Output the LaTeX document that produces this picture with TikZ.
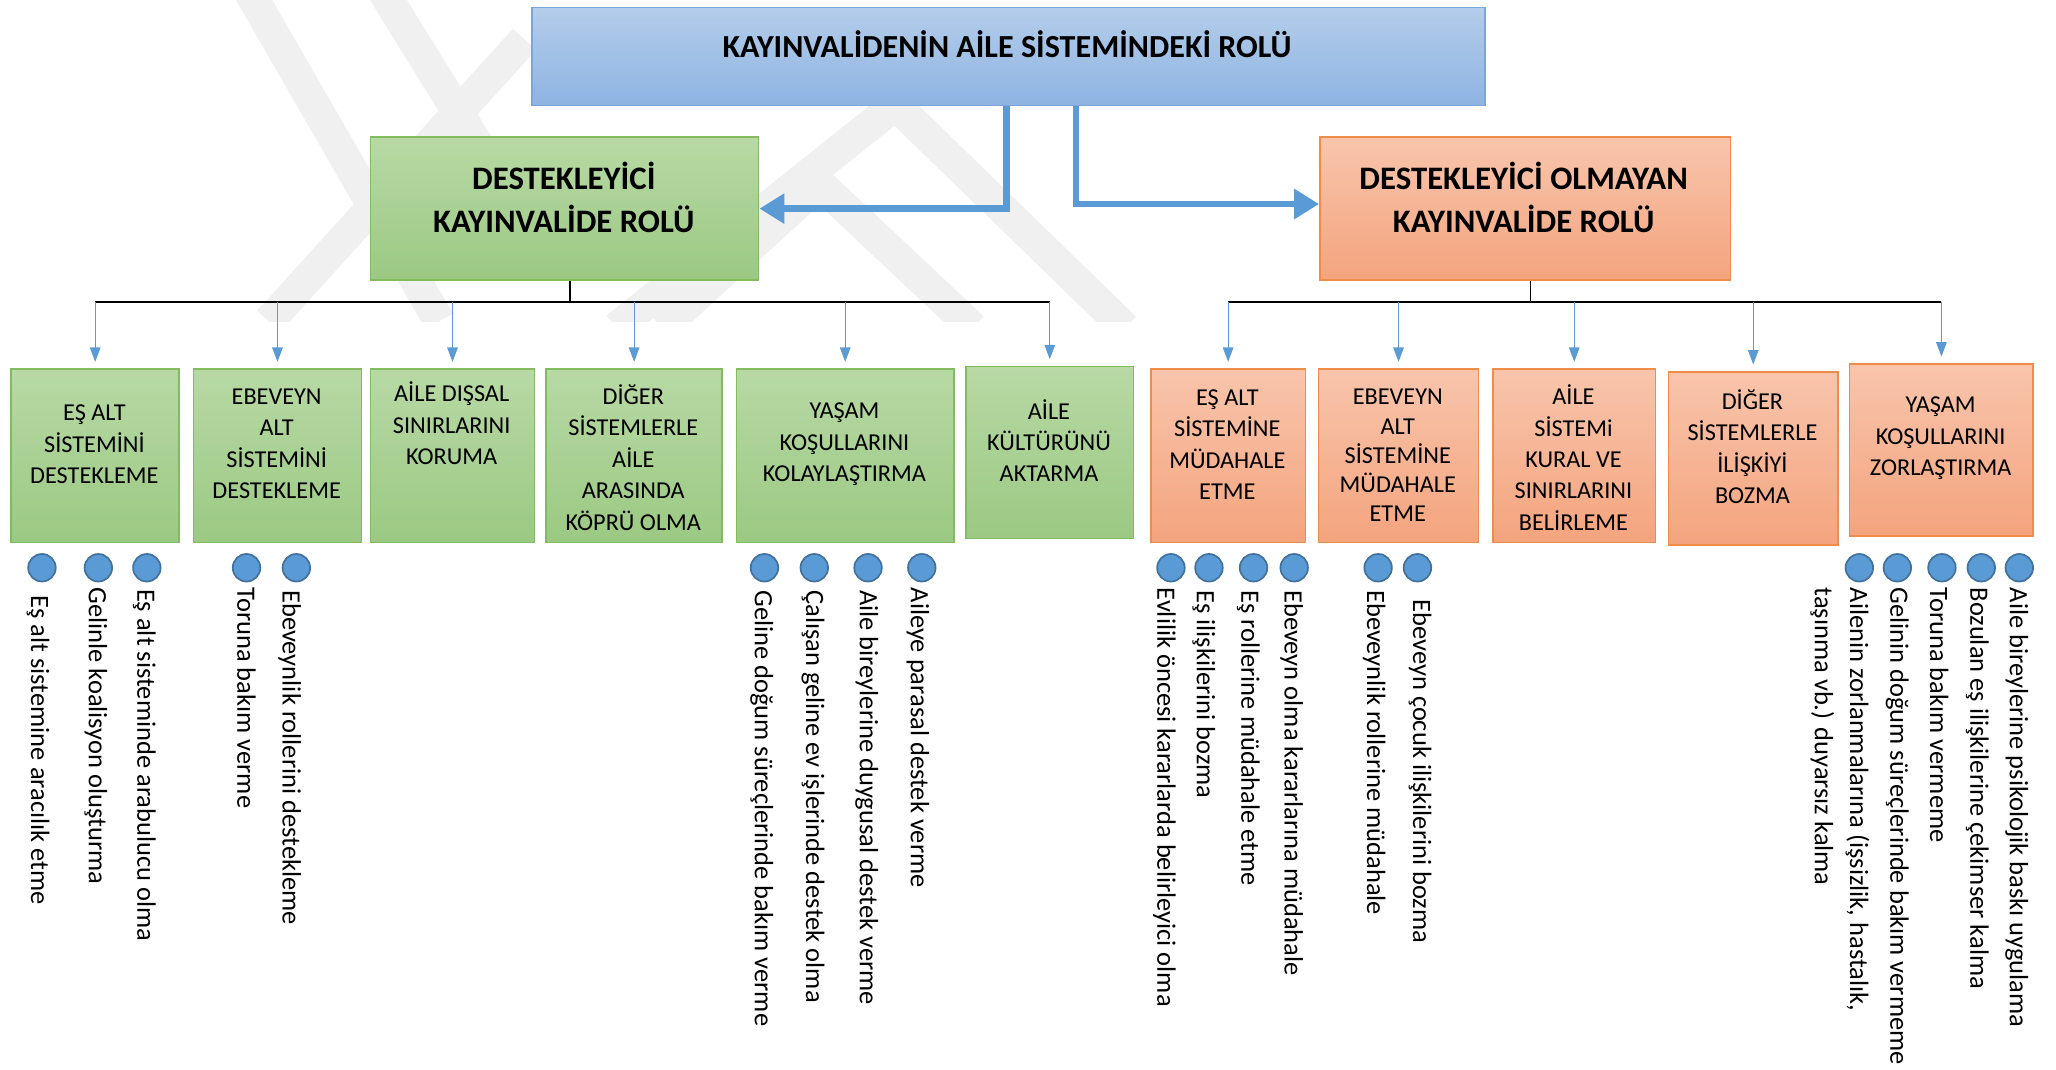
\documentclass[tikz,border=0pt]{standalone}
\usepackage{fontspec}
\setmainfont{Carlito}
\usepackage{tikz}
\usetikzlibrary{shapes,arrows,arrows.meta,positioning,backgrounds}

\definecolor{titletop}{HTML}{B4CDEA}
\definecolor{titlebottom}{HTML}{8EB4E3}
\definecolor{titleborder}{HTML}{7AA6DA}
\definecolor{greentop}{HTML}{B8D9A5}
\definecolor{greenbottom}{HTML}{9BC983}
\definecolor{greenborder}{HTML}{82BC5F}
\definecolor{orangetop}{HTML}{F8C5AC}
\definecolor{orangebottom}{HTML}{F4A47E}
\definecolor{orangeborder}{HTML}{F08C48}
\definecolor{linkblue}{HTML}{5B9BD5}
\definecolor{dotborder}{HTML}{41719C}
\definecolor{watermark}{HTML}{F0F0F0}

\begin{document}
\begin{tikzpicture}[x=1pt, y=-1pt]
  % styles
  \tikzstyle{rolebox}=[rectangle, anchor=north west, inner sep=0pt, line width=1.2pt]
  \tikzstyle{titlebox}=[rolebox, draw=titleborder, top color=titletop, bottom color=titlebottom]
  \tikzstyle{greenbox}=[rolebox, draw=greenborder, top color=greentop, bottom color=greenbottom]
  \tikzstyle{orangebox}=[rolebox, draw=orangeborder, top color=orangetop, bottom color=orangebottom]
  \tikzstyle{headtext}=[align=center, inner sep=0pt, font=\fontsize{25}{33}\selectfont\bfseries]
  \tikzstyle{boxtext}=[align=center, inner sep=0pt, font=\fontsize{18.5}{24}\selectfont]
  \tikzstyle{itemdot}=[circle, draw=dotborder, fill=linkblue, line width=1.3pt, minimum size=21pt, inner sep=0pt]
  \tikzstyle{itemtext}=[rotate=-90, anchor=west, inner sep=0pt, font=\fontsize{20.2}{27}\selectfont]
  \tikzstyle{bigline}=[draw=linkblue, line width=5pt, -{Triangle[length=19pt, width=22pt]}]
  \tikzstyle{branch}=[draw, line width=1.2pt]
  \tikzstyle{line}=[draw=linkblue, line width=0.9pt, -{Triangle[length=11pt, width=8pt]}, shorten >=5pt]
  \tikzstyle{wm}=[draw=watermark, line width=24pt]

  \useasboundingbox (0,0) rectangle (1568,816);

  % watermark
  \begin{scope}
    \clip (0,0) rectangle (1568,245);
    \draw[wm] (188,-10) -- (335,245);
    \draw[wm] (290,-10) -- (420,200);
    \draw[wm] (205,245) -- (400,30);
    \draw[wm] (470,250) -- (683,80) -- (858,250);
    \draw[wm] (505,250) -- (625,140) -- (742,250);
  \end{scope}

  % top
  \node[titlebox, minimum width=727pt, minimum height=75pt] (role) at (405,5) {};
  \node[headtext, font=\fontsize{24.5}{26}\selectfont\bfseries] (role-text) at (768,34) {KAYINVALİDENİN AİLE SİSTEMİNDEKİ ROLÜ};

  \node[greenbox, minimum width=296pt, minimum height=109pt] (support) at (282,104) {};
  \node[headtext] (support-text) at (430,150.5) {DESTEKLEYİCİ\\KAYINVALİDE ROLÜ};
  \node[orangebox, minimum width=313pt, minimum height=109pt] (nosupport) at (1006,104) {};
  \node[headtext] (nosupport-text) at (1162,150.5) {DESTEKLEYİCİ OLMAYAN\\KAYINVALİDE ROLÜ};

  \draw[bigline] ([xshift=-1.5pt]role.south) |- (support.east);
  \draw[bigline] ([xshift=51.5pt]role.south) |- ([yshift=3.5pt]nosupport.west);

  % supporting roles
  \node[greenbox, minimum width=128pt, minimum height=132pt] (s1) at (8,281) {};
  \node[boxtext] (s1-text) at (72,339) {EŞ ALT\\SİSTEMİNİ\\DESTEKLEME};
  \node[greenbox, minimum width=128pt, minimum height=132pt] (s2) at (147,281) {};
  \node[boxtext] (s2-text) at (211,338.5) {EBEVEYN\\ALT\\SİSTEMİNİ\\DESTEKLEME};
  \node[greenbox, minimum width=125pt, minimum height=132pt] (s3) at (282,281) {};
  \node[boxtext] (s3-text) at (344.5,323) {AİLE DIŞSAL\\SINIRLARINI\\KORUMA};
  \node[greenbox, minimum width=134pt, minimum height=132pt] (s4) at (416,281) {};
  \node[boxtext] (s4-text) at (483,349) {DİĞER\\SİSTEMLERLE\\AİLE\\ARASINDA\\KÖPRÜ OLMA};
  \node[greenbox, minimum width=166pt, minimum height=132pt] (s5) at (561,281) {};
  \node[boxtext] (s5-text) at (644,339) {YAŞAM\\KOŞULLARINI\\KOLAYLAŞTIRMA};
  \node[greenbox, minimum width=128pt, minimum height=131pt] (s6) at (736,279) {};
  \node[boxtext] (s6-text) at (800,336) {AİLE\\KÜLTÜRÜNÜ\\AKTARMA};

  % non-supporting roles
  \node[orangebox, minimum width=118pt, minimum height=132pt] (n1) at (877,281) {};
  \node[boxtext] (n1-text) at (936,339) {EŞ ALT\\SİSTEMİNE\\MÜDAHALE\\ETME};
  \node[orangebox, minimum width=122pt, minimum height=132pt] (n2) at (1005,281) {};
  \node[boxtext, font=\fontsize{18.5}{22.3}\selectfont] (n2-text) at (1066,347.5) {EBEVEYN\\ALT\\SİSTEMİNE\\MÜDAHALE\\ETME};
  \node[orangebox, minimum width=124pt, minimum height=132pt] (n3) at (1138,281) {};
  \node[boxtext] (n3-text) at (1200,349) {AİLE\\SİSTEMi\\KURAL VE\\SINIRLARINI\\BELİRLEME};
  \node[orangebox, minimum width=129pt, minimum height=132pt] (n4) at (1272,283) {};
  \node[boxtext] (n4-text) at (1336.5,340.5) {DİĞER\\SİSTEMLERLE\\İLİŞKİYİ\\BOZMA};
  \node[orangebox, minimum width=140pt, minimum height=131pt] (n5) at (1410,277) {};
  \node[boxtext] (n5-text) at (1480,334.5) {YAŞAM\\KOŞULLARINI\\ZORLAŞTIRMA};

  % branches
  \draw[branch] ([xshift=4pt]support.south) -- ++(0,16) coordinate (support-bar);
  \draw[branch] (support-bar -| s1.north) -- (support-bar -| s6.north);
  \foreach \s in {s1,s2,s3,s4,s5,s6}
    \draw[line] (support-bar -| \s.north) -- (\s.north);

  \draw[branch] ([xshift=4pt]nosupport.south) -- ++(0,16) coordinate (nosupport-bar);
  \draw[branch] (nosupport-bar -| n1.north) -- (nosupport-bar -| n5.north);
  \foreach \s in {n1,n2,n3,n4,n5}
    \draw[line] (nosupport-bar -| \s.north) -- (\s.north);

  % items
  \foreach \n/\cx/\tx/\ty/\txt in {
      a1/32/29/454/{Eş alt sistemine aracılık etme},
      a2/75/73/448/{Gelinle koalisyon oluşturma},
      a3/112/110/449/{Eş alt sisteminde arabulucu olma},
      b1/188/188/448/{Toruna bakım verme},
      b2/226/221/450/{Ebeveynlik rollerini destekleme},
      e1/583/581/450/{Geline doğum süreçlerinde bakım verme},
      e2/621/620/450/{Çalışan geline ev işlerinde destek olma},
      e3/662/661/450/{Aile bireylerine duygusal destek verme},
      e4/703/700/448/{Aileye parasal destek verme},
      r1/893/888/448/{Evlilik öncesi kararlarda belirleyici olma},
      r2/922/918/450/{Eş ilişkilerini bozma},
      r3/956/952/450/{Eş rollerine müdahale etme},
      r4/987/985/450/{Ebeveyn olma kararlarına müdahale},
      p1/1051/1048/450/{Ebeveynlik rollerine müdahale},
      p2/1081/1083/457/{Ebeveyn çocuk ilişkilerini bozma},
      z2/1447/1447/448/{Gelinin doğum süreçlerinde bakım vermeme},
      z3/1481/1479/448/{Toruna bakım vermeme},
      z4/1511/1508/448/{Bozulan eş ilişkilerine çekimser kalma},
      z5/1540/1538/448/{Aile bireylerine psikolojik baskı uygulama}}{
    \node[itemdot] (dot-\n) at (\cx,433) {};
    \node[itemtext] (text-\n) at (\tx,\ty) {\txt};
  }
  \node[itemdot] (dot-z1) at (1418,433) {};
  \node[itemtext, anchor=north west, align=left] (text-z1) at (1426,448) {Ailenin zorlanmalarına (işsizlik, hastalık,\\taşınma vb.) duyarsız kalma};
\end{tikzpicture}
\end{document}
